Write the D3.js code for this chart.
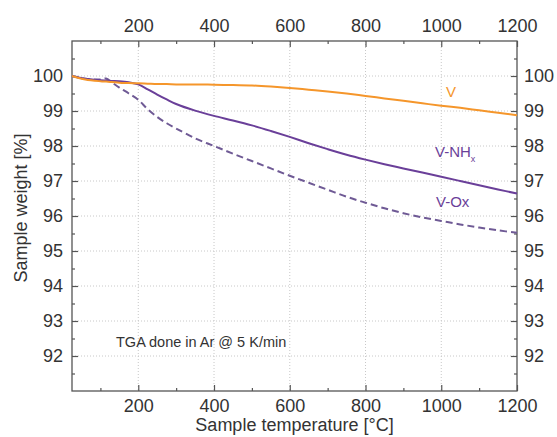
<!DOCTYPE html>
<html>
<head>
<meta charset="utf-8">
<script src="https://cdn.jsdelivr.net/npm/d3@7"></script>
<style>
  html, body { margin: 0; padding: 0; background: #fff; }
  svg { display: block; font-family: Arial, "Liberation Sans", sans-serif; }
</style>
</head>
<body>
<svg id="chart" width="557" height="437"></svg>
<script>
const temps = [25, 60, 100, 115, 130, 150, 175, 200, 225, 250, 275, 300, 350, 400, 450, 500, 550, 600, 650, 700, 750, 800, 850, 900, 950, 1000, 1050, 1100, 1150, 1200];
const seriesV = [100.0, 99.9, 99.85, 99.84, 99.83, 99.81, 99.8, 99.79, 99.78, 99.77, 99.77, 99.76, 99.76, 99.75, 99.74, 99.73, 99.7, 99.66, 99.61, 99.56, 99.5, 99.43, 99.36, 99.29, 99.22, 99.15, 99.09, 99.02, 98.95, 98.88];
const seriesNHx = [100.0, 99.92, 99.88, 99.87, 99.86, 99.85, 99.82, 99.76, 99.62, 99.47, 99.33, 99.2, 99.01, 98.86, 98.73, 98.59, 98.43, 98.26, 98.08, 97.91, 97.75, 97.61, 97.48, 97.36, 97.24, 97.12, 97.0, 96.88, 96.76, 96.64];
const seriesOx = [100.0, 99.92, 99.9, 99.93, 99.82, 99.67, 99.5, 99.32, 99.05, 98.83, 98.65, 98.5, 98.22, 98.0, 97.78, 97.57, 97.36, 97.15, 96.95, 96.75, 96.55, 96.38, 96.22, 96.08, 95.96, 95.86, 95.76, 95.67, 95.59, 95.52];
const xTicks = [200, 400, 600, 800, 1000, 1200];
const xMinor = [100, 300, 500, 700, 900, 1100];
const yTicks = [92, 93, 94, 95, 96, 97, 98, 99, 100];
const yMinor = [91.5, 92.5, 93.5, 94.5, 95.5, 96.5, 97.5, 98.5, 99.5, 100.5];
const xDomain = [25, 1200];
const yDomain = [91, 101];

const svg = d3.select("#chart");
const L = 72, R = 517, T = 41, B = 391;
const x = d3.scaleLinear().domain(xDomain).range([L, R]);
const y = d3.scaleLinear().domain(yDomain).range([B, T]);

const textColor = "#333";
const axisColor = "#555";

// grid
const grid = svg.append("g");
grid.selectAll("line.gx").data(xTicks.filter(v => v < 1200)).join("line")
  .attr("x1", d => x(d)).attr("x2", d => x(d)).attr("y1", T).attr("y2", B)
  .attr("stroke", "#c8c8c8").attr("stroke-width", 1).attr("stroke-dasharray", "1,2");
grid.selectAll("line.gy").data(yTicks).join("line")
  .attr("y1", d => y(d)).attr("y2", d => y(d)).attr("x1", L).attr("x2", R)
  .attr("stroke", "#c8c8c8").attr("stroke-width", 1).attr("stroke-dasharray", "1,2");

function styleAxis(g) {
  g.select(".domain").remove();
  g.selectAll(".tick line").attr("stroke", axisColor).attr("stroke-width", 1.2);
  g.selectAll(".tick text").attr("fill", textColor).attr("font-size", 18).attr("font-family", "Arial, 'Liberation Sans', sans-serif");
}

// major axes
svg.append("g").attr("transform", `translate(0,${B})`)
  .call(d3.axisBottom(x).tickValues(xTicks).tickSize(-6).tickPadding(8).tickFormat(d3.format("d"))).call(styleAxis);
svg.append("g").attr("transform", `translate(0,${T})`)
  .call(d3.axisTop(x).tickValues(xTicks).tickSize(-6).tickPadding(9).tickFormat(d3.format("d"))).call(styleAxis);
svg.append("g").attr("transform", `translate(${L},0)`)
  .call(d3.axisLeft(y).tickValues(yTicks).tickSize(-6).tickPadding(9).tickFormat(d3.format("d"))).call(styleAxis);
svg.append("g").attr("transform", `translate(${R},0)`)
  .call(d3.axisRight(y).tickValues(yTicks).tickSize(-6).tickPadding(7).tickFormat(d3.format("d"))).call(styleAxis);

// minor ticks
const noLab = () => "";
svg.append("g").attr("transform", `translate(0,${B})`).call(d3.axisBottom(x).tickValues(xMinor).tickSize(-3).tickFormat(noLab)).call(styleAxis);
svg.append("g").attr("transform", `translate(0,${T})`).call(d3.axisTop(x).tickValues(xMinor).tickSize(-3).tickFormat(noLab)).call(styleAxis);
svg.append("g").attr("transform", `translate(${L},0)`).call(d3.axisLeft(y).tickValues(yMinor).tickSize(-3).tickFormat(noLab)).call(styleAxis);
svg.append("g").attr("transform", `translate(${R},0)`).call(d3.axisRight(y).tickValues(yMinor).tickSize(-3).tickFormat(noLab)).call(styleAxis);

// frame
svg.append("rect").attr("x", L).attr("y", T).attr("width", R - L).attr("height", B - T)
  .attr("fill", "none").attr("stroke", axisColor).attr("stroke-width", 1.3);

// lines
const line = d3.line().x((d, i) => x(temps[i])).y(d => y(d)).curve(d3.curveCatmullRom.alpha(0.5));
svg.append("path").datum(seriesOx).attr("d", line).attr("fill", "none")
  .attr("stroke", "#6f5a95").attr("stroke-width", 2).attr("stroke-dasharray", "7,4");
svg.append("path").datum(seriesNHx).attr("d", line).attr("fill", "none")
  .attr("stroke", "#6a3f99").attr("stroke-width", 2);
svg.append("path").datum(seriesV).attr("d", line).attr("fill", "none")
  .attr("stroke", "#f5962b").attr("stroke-width", 2);

// labels
svg.append("text").attr("x", 451).attr("y", 97).attr("text-anchor", "middle")
  .attr("font-size", 15).attr("fill", "#f5962b").text("V");
const nh = svg.append("text").attr("x", 435).attr("y", 157).attr("font-size", 15).attr("fill", "#6a3f99");
nh.append("tspan").text("V-NH");
nh.append("tspan").attr("font-size", 9).attr("dy", 5).text("x");
svg.append("text").attr("x", 436).attr("y", 207).attr("font-size", 15).attr("fill", "#6a3f99").text("V-Ox");

svg.append("text").attr("x", 116).attr("y", 347).attr("font-size", 14.5).attr("fill", textColor)
  .text("TGA done in Ar @ 5 K/min");

// axis titles
svg.append("text").attr("x", (L + R) / 2).attr("y", 431).attr("text-anchor", "middle")
  .attr("font-size", 18).attr("fill", textColor).text("Sample temperature [°C]");
svg.append("text").attr("transform", `translate(27,${208}) rotate(-90)`).attr("text-anchor", "middle")
  .attr("font-size", 18).attr("fill", textColor).text("Sample weight [%]");
</script>
</body>
</html>
